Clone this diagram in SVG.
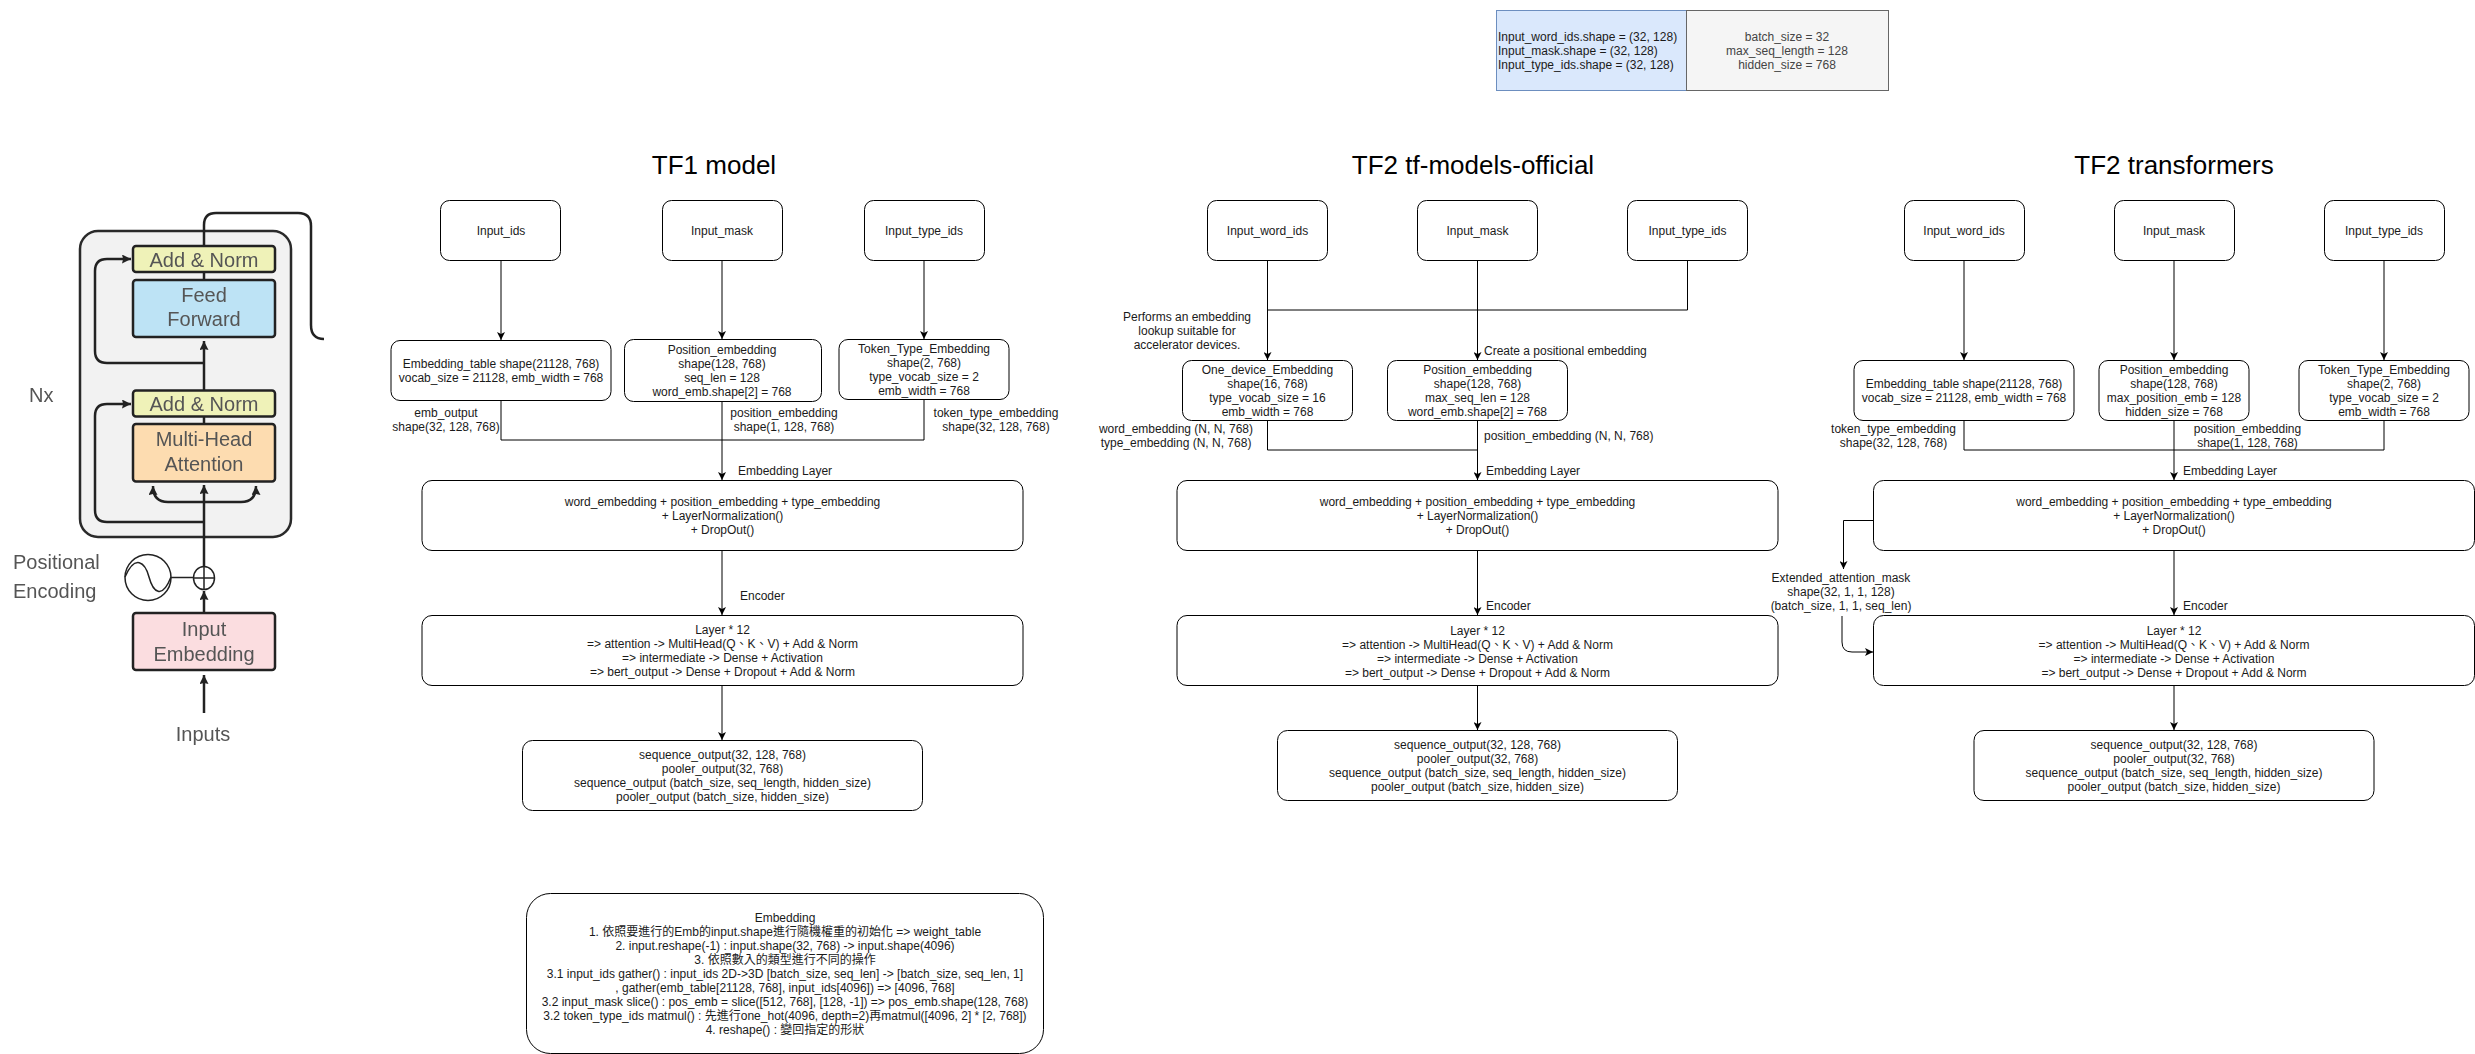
<svg xmlns="http://www.w3.org/2000/svg" width="2475" height="1054" viewBox="0 0 2475 1054">
<defs>
<marker id="arr" viewBox="0 0 8 8" refX="8" refY="4" markerWidth="8" markerHeight="8" markerUnits="userSpaceOnUse" orient="auto"><path d="M8 4L0 0L2 4L0 8Z" fill="#000"/></marker>
<marker id="fig" viewBox="0 0 8 8" refX="8" refY="4" markerWidth="9" markerHeight="9" markerUnits="userSpaceOnUse" orient="auto"><path d="M8 4L0 0L1 4L0 8Z" fill="#222"/></marker>
<filter id="soft" x="-5%" y="-5%" width="110%" height="110%"><feGaussianBlur stdDeviation="0.7"/></filter>
</defs>
<style>
text{font-family:"Liberation Sans","Noto Sans CJK TC",sans-serif;font-size:12px;fill:#1a1a1a;text-anchor:middle}
.t{font-size:26px;fill:#000}
.l{text-anchor:start}
.n{fill:#fff;stroke:#000;stroke-width:1}
.c{fill:none;stroke:#000;stroke-width:1}
.a{marker-end:url(#arr)}
.f text{font-size:20px;fill:#555}
.fb{stroke:#222;stroke-width:2.5}
.fc{fill:none;stroke:#222;stroke-width:2.5}
.fa{marker-end:url(#fig)}
</style>
<rect width="2475" height="1054" fill="#fff"/>

<g id="transformer-figure" class="f" filter="url(#soft)">
<rect x="80" y="231" width="211" height="306" rx="18" fill="#f2f2f2" stroke="#2b2b2b" stroke-width="2.5"/>
<path class="fc" d="M204 246V225Q204 213 216 213H298Q311 213 311 226V325Q311 339 324 339"/>
<path class="fc" d="M204 272V280"/>
<path class="fc" d="M204 416V424"/>
<path class="fc fa" d="M204 390V341"/>
<path class="fc fa" d="M204 363H107Q95 363 95 351V271Q95 259 107 259H131"/>
<path class="fc fa" d="M204 522H107Q95 522 95 510V416Q95 404 107 404H131"/>
<path class="fc fa" d="M204 567V485"/>
<path class="fc fa" d="M204 502H168Q153 502 153 486"/>
<path class="fc fa" d="M204 502H241Q256 502 256 486"/>
<path class="fc fa" d="M204 613V591"/>
<path class="fc fa" d="M204 713V675"/>
<rect class="fb" x="133" y="246" width="142" height="26" rx="3" fill="#eff2b8"/>
<rect class="fb" x="133" y="280" width="142" height="57" rx="3" fill="#bde3f5"/>
<rect class="fb" x="133" y="390.500" width="142" height="26" rx="3" fill="#eff2b8"/>
<rect class="fb" x="133" y="424" width="142" height="57.500" rx="3" fill="#fddcb0"/>
<rect class="fb" x="133" y="613" width="142" height="57" rx="3" fill="#fbdde0"/>
<ellipse cx="204" cy="578" rx="10.500" ry="11.500" fill="#fff" stroke="#222" stroke-width="1.5"/>
<path d="M193.500 578H214.500M204 566.500V589.500" fill="none" stroke="#222" stroke-width="1.5"/>
<ellipse cx="148" cy="577.500" rx="23" ry="23" fill="#fff" stroke="#222" stroke-width="1.500"/>
<path d="M125 577C135 554 145 562 149 577S162 600 171 577" fill="none" stroke="#222" stroke-width="1.500"/>
<path d="M171 577.500H194" fill="none" stroke="#222" stroke-width="1.500"/>
<text x="204" y="267">Add &amp; Norm</text>
<text x="204" y="302">Feed</text>
<text x="204" y="326">Forward</text>
<text x="204" y="411">Add &amp; Norm</text>
<text x="204" y="446">Multi-Head</text>
<text x="204" y="471">Attention</text>
<text x="204" y="636">Input</text>
<text x="204" y="661">Embedding</text>
<text class="l" x="29" y="402">Nx</text>
<text class="l" x="13" y="569">Positional</text>
<text class="l" x="13" y="598">Encoding</text>
<text x="203" y="741">Inputs</text>
</g>

<g id="titles">
<text class="t" x="714" y="174">TF1 model</text>
<text class="t" x="1473" y="174">TF2 tf-models-official</text>
<text class="t" x="2174" y="174">TF2 transformers</text>
</g>

<g id="connectors">
<path class="c a" d="M501 260V340"/>
<path class="c a" d="M722 260V339"/>
<path class="c a" d="M924 260V339"/>
<path class="c" d="M501 400V440H924V399"/>
<path class="c a" d="M722 402V480"/>
<path class="c a" d="M722 550V615"/>
<path class="c a" d="M722 685V740"/>

<path class="c a" d="M1267.500 260V360"/>
<path class="c a" d="M1477.500 260V360"/>
<path class="c" d="M1687.500 260V310H1267.500"/>
<path class="c" d="M1267.500 420V450H1477.500"/>
<path class="c a" d="M1477.500 420V480"/>
<path class="c a" d="M1477.500 550V615"/>
<path class="c a" d="M1477.500 685V730"/>

<path class="c a" d="M1964 260V360"/>
<path class="c a" d="M2174 260V360"/>
<path class="c a" d="M2384 260V360"/>
<path class="c" d="M1964 420V450H2384V420"/>
<path class="c a" d="M2174 420V480"/>
<path class="c a" d="M2174 550V615"/>
<path class="c a" d="M2174 685V730"/>
<path class="c a" d="M1873 520.500H1843.500V569"/>
<path class="c a" d="M1842 616V642Q1842 652 1852 652H1873"/>
</g>

<g id="shape-table">
<rect x="1496.500" y="10.500" width="190" height="80" fill="#dae8fc" stroke="#6c8ebf"/>
<rect x="1686.500" y="10.500" width="202" height="80" fill="#f5f5f5" stroke="#666"/>
<g>
<text class="l" x="1498" y="41">Input_word_ids.shape = (32, 128)</text>
<text class="l" x="1498" y="55">Input_mask.shape = (32, 128)</text>
<text class="l" x="1498" y="69">Input_type_ids.shape = (32, 128)</text>
<text x="1787" y="41" style="fill:#444">batch_size = 32</text>
<text x="1787" y="55" style="fill:#444">max_seq_length = 128</text>
<text x="1787" y="69" style="fill:#444">hidden_size = 768</text>
</g>
</g>

<!-- TF1 -->
<g id="tf1-input-ids"><rect class="n" x="440.500" y="200.500" width="120" height="60" rx="9"/><text x="501" y="235">Input_ids</text></g>
<g id="tf1-input-mask"><rect class="n" x="662.500" y="200.500" width="120" height="60" rx="9"/><text x="722" y="235">Input_mask</text></g>
<g id="tf1-input-type"><rect class="n" x="864.500" y="200.500" width="120" height="60" rx="9"/><text x="924" y="235">Input_type_ids</text></g>
<g id="tf1-emb-table"><rect class="n" x="391" y="340.500" width="220" height="60" rx="9"/><text x="501" y="368">Embedding_table shape(21128, 768)</text><text x="501" y="382">vocab_size = 21128, emb_width = 768</text></g>
<g id="tf1-pos-emb"><rect class="n" x="624.500" y="339.500" width="197" height="62" rx="9"/><text x="722" y="354">Position_embedding</text><text x="722" y="368">shape(128, 768)</text><text x="722" y="382">seq_len = 128</text><text x="722" y="396">word_emb.shape[2] = 768</text></g>
<g id="tf1-token-emb"><rect class="n" x="839" y="339.500" width="170" height="60" rx="9"/><text x="924" y="353">Token_Type_Embedding</text><text x="924" y="367">shape(2, 768)</text><text x="924" y="381">type_vocab_size = 2</text><text x="924" y="395">emb_width = 768</text></g>
<g id="tf1-embedding-layer"><rect class="n" x="422" y="480.500" width="601" height="70" rx="10"/><text x="722.500" y="506">word_embedding + position_embedding + type_embedding</text><text x="722.500" y="520">+ LayerNormalization()</text><text x="722.500" y="534">+ DropOut()</text></g>
<g id="tf1-encoder"><rect class="n" x="422" y="615.500" width="601" height="70" rx="10"/><text x="722.500" y="634">Layer * 12</text><text x="722.500" y="648">=&gt; attention -&gt; MultiHead(Q、K、V) + Add &amp; Norm</text><text x="722.500" y="662">=&gt; intermediate -&gt; Dense + Activation</text><text x="722.500" y="676">=&gt; bert_output -&gt; Dense + Dropout + Add &amp; Norm</text></g>
<g id="tf1-output"><rect class="n" x="522.500" y="740.500" width="400" height="70" rx="10"/><text x="722.500" y="759">sequence_output(32, 128, 768)</text><text x="722.500" y="773">pooler_output(32, 768)</text><text x="722.500" y="787">sequence_output (batch_size, seq_length, hidden_size)</text><text x="722.500" y="801">pooler_output (batch_size, hidden_size)</text></g>
<g id="tf1-labels">
<text x="446" y="417">emb_output</text><text x="446" y="431">shape(32, 128, 768)</text>
<text x="784" y="417">position_embedding</text><text x="784" y="431">shape(1, 128, 768)</text>
<text x="996" y="417">token_type_embedding</text><text x="996" y="431">shape(32, 128, 768)</text>
<text class="l" x="738" y="475">Embedding Layer</text>
<text class="l" x="740" y="600">Encoder</text>
</g>
<g id="embedding-note"><rect class="n" x="526.500" y="893.500" width="517" height="160" rx="24"/>
<text x="785" y="922">Embedding</text>
<text x="785" y="936">1. 依照要進行的Emb的input.shape進行隨機權重的初始化 =&gt; weight_table</text>
<text x="785" y="950">2. input.reshape(-1) : input.shape(32, 768) -&gt; input.shape(4096)</text>
<text x="785" y="964">3. 依照數入的類型進行不同的操作</text>
<text x="785" y="978">3.1 input_ids gather() : input_ids 2D-&gt;3D [batch_size, seq_len]  -&gt; [batch_size, seq_len, 1]</text>
<text x="785" y="992">, gather(emb_table[21128, 768], input_ids[4096]) =&gt; [4096, 768]</text>
<text x="785" y="1006">3.2 input_mask slice() : pos_emb = slice([512, 768], [128, -1]) =&gt; pos_emb.shape(128, 768)</text>
<text x="785" y="1020">3.2 token_type_ids matmul() : 先進行one_hot(4096, depth=2)再matmul([4096, 2] * [2, 768])</text>
<text x="785" y="1034">4. reshape() : 變回指定的形狀</text>
</g>

<!-- TF2 official -->
<g id="off-input-word"><rect class="n" x="1207.500" y="200.500" width="120" height="60" rx="9"/><text x="1267.500" y="235">Input_word_ids</text></g>
<g id="off-input-mask"><rect class="n" x="1417.500" y="200.500" width="120" height="60" rx="9"/><text x="1477.500" y="235">Input_mask</text></g>
<g id="off-input-type"><rect class="n" x="1627.500" y="200.500" width="120" height="60" rx="9"/><text x="1687.500" y="235">Input_type_ids</text></g>
<g id="off-one-device"><rect class="n" x="1182.500" y="360.500" width="170" height="60" rx="9"/><text x="1267.500" y="374">One_device_Embedding</text><text x="1267.500" y="388">shape(16, 768)</text><text x="1267.500" y="402">type_vocab_size = 16</text><text x="1267.500" y="416">emb_width = 768</text></g>
<g id="off-pos-emb"><rect class="n" x="1387.500" y="360.500" width="180" height="60" rx="9"/><text x="1477.500" y="374">Position_embedding</text><text x="1477.500" y="388">shape(128, 768)</text><text x="1477.500" y="402">max_seq_len = 128</text><text x="1477.500" y="416">word_emb.shape[2] = 768</text></g>
<g id="off-embedding-layer"><rect class="n" x="1177" y="480.500" width="601" height="70" rx="10"/><text x="1477.500" y="506">word_embedding + position_embedding + type_embedding</text><text x="1477.500" y="520">+ LayerNormalization()</text><text x="1477.500" y="534">+ DropOut()</text></g>
<g id="off-encoder"><rect class="n" x="1177" y="615.500" width="601" height="70" rx="10"/><text x="1477.500" y="635">Layer * 12</text><text x="1477.500" y="649">=&gt; attention -&gt; MultiHead(Q、K、V) + Add &amp; Norm</text><text x="1477.500" y="663">=&gt; intermediate -&gt; Dense + Activation</text><text x="1477.500" y="677">=&gt; bert_output -&gt; Dense + Dropout + Add &amp; Norm</text></g>
<g id="off-output"><rect class="n" x="1277.500" y="730.500" width="400" height="70" rx="10"/><text x="1477.500" y="749">sequence_output(32, 128, 768)</text><text x="1477.500" y="763">pooler_output(32, 768)</text><text x="1477.500" y="777">sequence_output (batch_size, seq_length, hidden_size)</text><text x="1477.500" y="791">pooler_output (batch_size, hidden_size)</text></g>
<g id="off-labels">
<text x="1187" y="321">Performs an embedding</text><text x="1187" y="335">lookup suitable for</text><text x="1187" y="349">accelerator devices.</text>
<text class="l" x="1484" y="355">Create a positional embedding</text>
<text x="1176" y="433">word_embedding (N, N, 768)</text><text x="1176" y="447">type_embedding (N, N, 768)</text>
<text class="l" x="1484" y="440">position_embedding (N, N, 768)</text>
<text class="l" x="1486" y="475">Embedding Layer</text>
<text class="l" x="1486" y="610">Encoder</text>
</g>

<!-- TF2 transformers -->
<g id="tr-input-word"><rect class="n" x="1904.500" y="200.500" width="120" height="60" rx="9"/><text x="1964" y="235">Input_word_ids</text></g>
<g id="tr-input-mask"><rect class="n" x="2114.500" y="200.500" width="120" height="60" rx="9"/><text x="2174" y="235">Input_mask</text></g>
<g id="tr-input-type"><rect class="n" x="2324.500" y="200.500" width="120" height="60" rx="9"/><text x="2384" y="235">Input_type_ids</text></g>
<g id="tr-emb-table"><rect class="n" x="1854" y="360.500" width="220" height="60" rx="9"/><text x="1964" y="388">Embedding_table shape(21128, 768)</text><text x="1964" y="402">vocab_size = 21128, emb_width = 768</text></g>
<g id="tr-pos-emb"><rect class="n" x="2099" y="360.500" width="150" height="60" rx="9"/><text x="2174" y="374">Position_embedding</text><text x="2174" y="388">shape(128, 768)</text><text x="2174" y="402">max_position_emb = 128</text><text x="2174" y="416">hidden_size = 768</text></g>
<g id="tr-token-emb"><rect class="n" x="2299" y="360.500" width="170" height="60" rx="9"/><text x="2384" y="374">Token_Type_Embedding</text><text x="2384" y="388">shape(2, 768)</text><text x="2384" y="402">type_vocab_size = 2</text><text x="2384" y="416">emb_width = 768</text></g>
<g id="tr-embedding-layer"><rect class="n" x="1873.500" y="480.500" width="601" height="70" rx="10"/><text x="2174" y="506">word_embedding + position_embedding + type_embedding</text><text x="2174" y="520">+ LayerNormalization()</text><text x="2174" y="534">+ DropOut()</text></g>
<g id="tr-encoder"><rect class="n" x="1873.500" y="615.500" width="601" height="70" rx="10"/><text x="2174" y="635">Layer * 12</text><text x="2174" y="649">=&gt; attention -&gt; MultiHead(Q、K、V) + Add &amp; Norm</text><text x="2174" y="663">=&gt; intermediate -&gt; Dense + Activation</text><text x="2174" y="677">=&gt; bert_output -&gt; Dense + Dropout + Add &amp; Norm</text></g>
<g id="tr-output"><rect class="n" x="1974" y="730.500" width="400" height="70" rx="10"/><text x="2174" y="749">sequence_output(32, 128, 768)</text><text x="2174" y="763">pooler_output(32, 768)</text><text x="2174" y="777">sequence_output (batch_size, seq_length, hidden_size)</text><text x="2174" y="791">pooler_output (batch_size, hidden_size)</text></g>
<g id="tr-labels">
<text x="1893.500" y="433">token_type_embedding</text><text x="1893.500" y="447">shape(32, 128, 768)</text>
<text x="2247.500" y="433">position_embedding</text><text x="2247.500" y="447">shape(1, 128, 768)</text>
<text class="l" x="2183" y="475">Embedding Layer</text>
<text class="l" x="2183" y="610">Encoder</text>
<text x="1841" y="582">Extended_attention_mask</text><text x="1841" y="596">shape(32, 1, 1, 128)</text><text x="1841" y="610">(batch_size, 1, 1, seq_len)</text>
</g>
</svg>
